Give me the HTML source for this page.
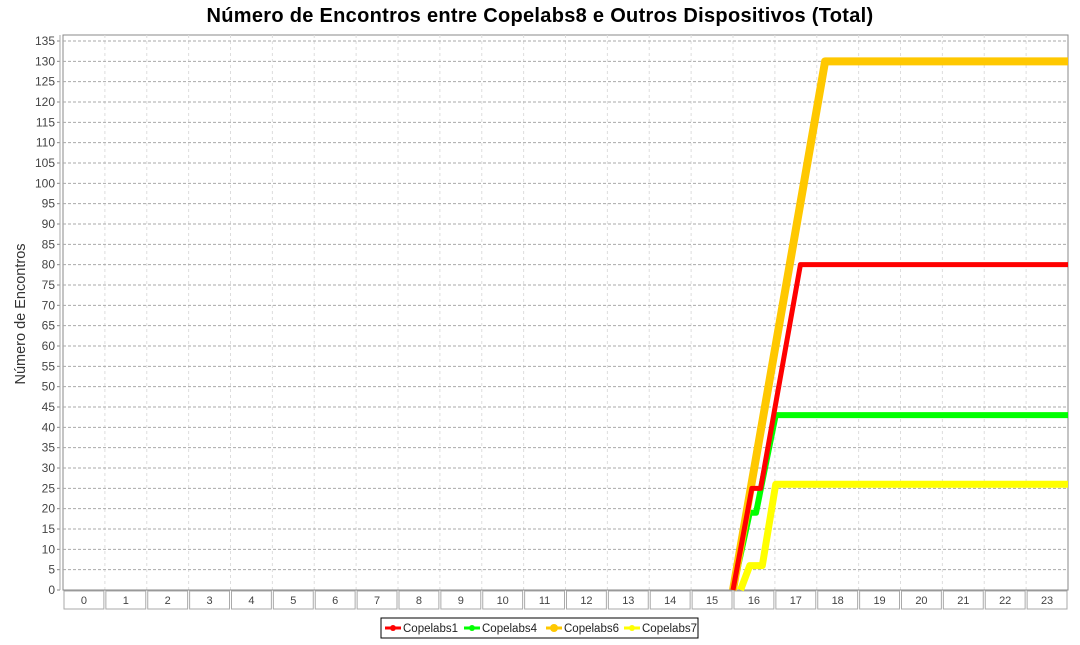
<!DOCTYPE html>
<html><head><meta charset="utf-8"><style>
body{margin:0;background:#fff;width:1080px;height:640px;overflow:hidden;font-family:"Liberation Sans",sans-serif}
</style></head><body>
<svg id="c" width="1080" height="640" xmlns="http://www.w3.org/2000/svg">
<text x="540" y="22" text-anchor="middle" font-size="20" font-weight="bold" fill="#000" letter-spacing="0.3">Número de Encontros entre Copelabs8 e Outros Dispositivos (Total)</text>
<text transform="translate(25,314) rotate(-90)" text-anchor="middle" font-size="14.5" fill="#333">Número de Encontros</text>
<g id="grid"></g><g id="axes"></g><g id="series"></g><g id="legend"></g>
</svg>
<script>
const categories=["0","1","2","3","4","5","6","7","8","9","10","11","12","13","14","15","16","17","18","19","20","21","22","23"];
const yTicks=[0,5,10,15,20,25,30,35,40,45,50,55,60,65,70,75,80,85,90,95,100,105,110,115,120,125,130,135];
const seriesNames=["Copelabs1","Copelabs4","Copelabs6","Copelabs7"];
const s1T=[16.0,16.45,16.66,17.61,24];const s1V=[0,25,25,80,80];
const s4T=[16.0,16.4,16.55,17.02,24];const s4V=[0,19,19,43,43];
const s6T=[16.0,18.2,24];const s6V=[0,130,130];
const s7T=[16.18,16.4,16.7,17.02,24];const s7V=[0,6,6,26,26];
const NS="http://www.w3.org/2000/svg";
const L=63,R=1068,T=35,B=590;
const X=t=>L+(R-L)*t/categories.length;
const Y=v=>B-v*(B-41)/135;
function mk(tag,attrs,parent){const e=document.createElementNS(NS,tag);for(const k in attrs)e.setAttribute(k,attrs[k]);parent.appendChild(e);return e;}
const grid=document.getElementById('grid'),axes=document.getElementById('axes'),ser=document.getElementById('series'),leg=document.getElementById('legend');
mk('rect',{x:L,y:T,width:R-L,height:B-T,fill:'#fff',stroke:'#888'},grid);
for(let i=1;i<categories.length;i++){const g=mk('line',{x1:X(i),x2:X(i),y1:T,y2:B,stroke:'#ddd','stroke-dasharray':'3,3'},grid);

}
yTicks.forEach(v=>{const g=mk('line',{x1:L,x2:R,y1:Y(v),y2:Y(v),stroke:'#aaa','stroke-dasharray':'3,2'},grid);


mk('line',{x1:57,x2:60,y1:Y(v),y2:Y(v),stroke:'#888'},axes);
const t=mk('text',{x:55,y:Y(v)+4,'text-anchor':'end','font-size':'12',fill:'#444'},axes);t.textContent=v;

});
mk('line',{x1:60,x2:60,y1:T,y2:B,stroke:'#aaa'},axes);
categories.forEach((c,i)=>{const r=mk('rect',{x:X(i)+1,y:B+1,width:X(1)-X(0)-2,height:18,fill:'#fff',stroke:'#aaa'},axes);


const t=mk('text',{x:X(i+0.5),y:B+14,'text-anchor':'middle','font-size':'11',fill:'#444'},axes);t.textContent=c;

});
mk('line',{x1:L,x2:R,y1:B,y2:B,stroke:'#888'},axes);
const defs=[[s4T,s4V,'#00ff00',6,seriesNames[1]],[s6T,s6V,'#ffc800',8,seriesNames[2]],[s1T,s1V,'#ff0000',5,seriesNames[0]],[s7T,s7V,'#ffff00',7,seriesNames[3]]];
defs.forEach(([ts,vs,col,w,n])=>{const p=mk('polyline',{points:ts.map((t,i)=>X(t)+','+Y(vs[i])).join(' '),fill:'none',stroke:col,'stroke-width':w,'stroke-linejoin':'round'},ser);

});
const lb=mk('rect',{x:381,y:618,width:317,height:20,fill:'#fff',stroke:'#000'},leg);


const lc=['#ff0000','#00ff00','#ffc800','#ffff00'];const lx=[385,464,546,624];
seriesNames.forEach((n,i)=>{const g=mk('g',{},leg);


mk('line',{x1:lx[i],x2:lx[i]+16,y1:628,y2:628,stroke:lc[i],'stroke-width':3},g);
mk('circle',{cx:lx[i]+8,cy:628,r:i==2?4:3,fill:lc[i]},g);
const t=mk('text',{x:lx[i]+18,y:632,'font-size':'11.5',fill:'#222'},g);t.textContent=n;});
</script>
</body></html>
